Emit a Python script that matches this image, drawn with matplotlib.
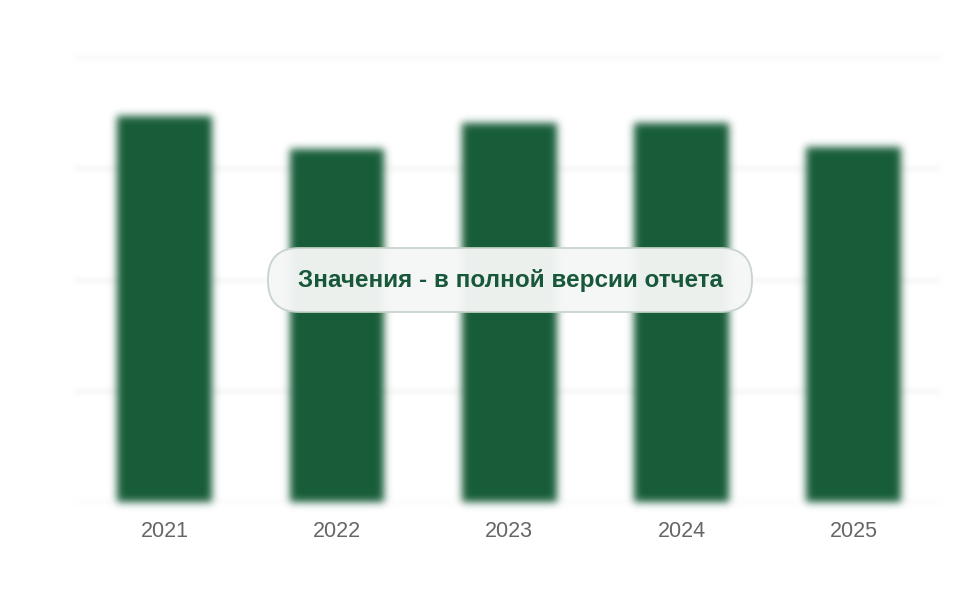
import matplotlib
matplotlib.use('Agg')
import matplotlib.pyplot as plt
from matplotlib.patches import FancyBboxPatch
import numpy as np

BAR = '#165c38'
TXT = '#17573a'
TICK = '#666666'

years = ['2021', '2022', '2023', '2024', '2025']
values = [86.7, 79.3, 85.2, 85.2, 79.8]


def gauss_blur(sigma):
    r = int(3 * sigma)
    k = np.exp(-0.5 * (np.arange(-r, r + 1) / sigma) ** 2)
    k /= k.sum()

    def filt(im, dpi):
        pad = r * 2
        a = np.pad(im, ((pad, pad), (pad, pad), (0, 0)))
        # premultiply so edges fade into white, not black
        stack = np.concatenate([a[..., :3] * a[..., 3:4], a[..., 3:4]], axis=2)
        for ax_ in (0, 1):
            stack = np.apply_along_axis(lambda m: np.convolve(m, k, mode='same'), ax_, stack)
        out = np.zeros_like(stack)
        alpha = stack[..., 3:4]
        out[..., :3] = stack[..., :3] / np.maximum(alpha, 1e-6)
        out[..., 3:4] = alpha
        return np.clip(out, 0, 1), -pad, -pad
    return filt


fig = plt.figure(figsize=(9.6, 6), dpi=100)
ax = fig.add_axes([75 / 960, 98 / 600, 865 / 960, 445 / 600])
x = np.arange(len(years))
bars = ax.bar(x, values, width=0.55, color=BAR)
for b in bars:
    b.set_agg_filter(gauss_blur(4))
    b.set_rasterized(True)

ax.set_ylim(0, 100)
ax.set_xlim(-0.52, 4.5)
for yv in [0, 25, 50, 75, 100]:
    ln = ax.axhline(yv, color='#f1f1f1', lw=2, zorder=0)
    ln.set_agg_filter(gauss_blur(2.5))
    ln.set_rasterized(True)

for s in ax.spines.values():
    s.set_visible(False)
ax.set_yticks([])
ax.set_xticks(x)
ax.set_xticklabels(years, fontsize=15.5, color=TICK, family='Liberation Sans')
ax.tick_params(axis='x', length=0, pad=14)

# overlay label, in a pixel-coordinate axes
ov = fig.add_axes([0, 0, 1, 1])
ov.set_xlim(0, 960)
ov.set_ylim(600, 0)
ov.axis('off')
ov.add_patch(FancyBboxPatch((268, 248), 484, 64, boxstyle='round,pad=0,rounding_size=31',
                            fc='#f5f7f6', ec='#c5d3ca', lw=1.3, alpha=0.96))
ov.text(510, 281, 'Значения - в полной версии отчета', ha='center', va='center',
        fontsize=17.5, fontweight='bold', color=TXT, family='Liberation Sans')

fig.savefig('out.png', dpi=100, facecolor='white')
